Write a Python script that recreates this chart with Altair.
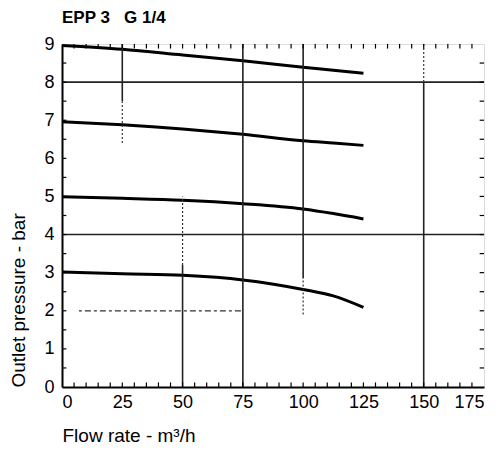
import altair as alt
import pandas as pd

# ---- data ----
flow = [0, 25, 50, 75, 100, 112.5, 125]
curve_9 = [8.96, 8.86, 8.71, 8.56, 8.39, 8.31, 8.23]
curve_7 = [6.96, 6.88, 6.77, 6.63, 6.46, 6.40, 6.34]
curve_5 = [4.99, 4.95, 4.90, 4.81, 4.67, 4.55, 4.41]
curve_3 = [3.02, 2.97, 2.93, 2.81, 2.56, 2.39, 2.09]

x_ticks = [0, 25, 50, 75, 100, 125, 150, 175]
y_ticks = [0, 1, 2, 3, 4, 5, 6, 7, 8, 9]

# grid segments (solid)
vgrid_x = [25, 75, 100, 150, 50]
vgrid_lo = [7.5, 0, 2.85, 0, 0]
vgrid_hi = [9, 9, 9, 8, 3.2]
hgrid_y = [8, 4]
# grid segments (dotted)
vdot_x = [25, 50, 100, 150]
vdot_lo = [6.4, 3.2, 1.9, 8]
vdot_hi = [7.5, 5, 2.85, 9]
hdot_y = [2]
hdot_lo = [7]
hdot_hi = [75]

# minor ticks
minor_x = list(range(5, 175, 5))
minor_y = [v / 2 for v in range(1, 18)]

FONT = "Liberation Sans, Arial, sans-serif"

curves = []
for name, vals in [("9", curve_9), ("7", curve_7), ("5", curve_5), ("3", curve_3)]:
    for f, p in zip(flow, vals):
        curves.append({"curve": name, "flow": f, "p": p})
curve_df = pd.DataFrame(curves)

xs = alt.Scale(domain=[0, 175], nice=False, zero=False)
ys = alt.Scale(domain=[0, 9], nice=False, zero=False)

xaxis = alt.Axis(values=x_ticks, ticks=False, grid=False, domainColor="black",
                 domainWidth=2, labelFont=FONT, labelFontSize=18, labelColor="black",
                 labelPadding=6, labelOverlap=False, title="Flow rate - m³/h",
                 titleFont=FONT, titleFontSize=19, titleFontWeight="normal",
                 titleColor="black", titleAnchor="start", titlePadding=15)
yaxis = alt.Axis(values=y_ticks, ticks=False, grid=False, domainColor="black",
                 domainWidth=2, labelFont=FONT, labelFontSize=18, labelColor="black",
                 labelPadding=8, labelOverlap=False, title="Outlet pressure - bar",
                 titleFont=FONT, titleFontSize=19, titleFontWeight="normal",
                 titleColor="black", titleAnchor="start", titlePadding=15)

lines = alt.Chart(curve_df).mark_line(color="black", strokeWidth=3,
                                      interpolate="monotone").encode(
    x=alt.X("flow:Q", scale=xs, axis=xaxis),
    y=alt.Y("p:Q", scale=ys, axis=yaxis),
    detail="curve:N",
)


def vseg(df, **mk):
    return alt.Chart(df).mark_rule(**mk).encode(
        x=alt.X("x:Q", scale=xs, axis=xaxis),
        y=alt.Y("lo:Q", scale=ys, axis=yaxis), y2="hi:Q")


def hseg(df, **mk):
    return alt.Chart(df).mark_rule(**mk).encode(
        y=alt.Y("y:Q", scale=ys, axis=yaxis),
        x=alt.X("lo:Q", scale=xs, axis=xaxis), x2="hi:Q")


vgrid = vseg(pd.DataFrame({"x": vgrid_x, "lo": vgrid_lo, "hi": vgrid_hi}),
             color="#222", strokeWidth=1.6)
hgrid = hseg(pd.DataFrame({"y": hgrid_y, "lo": [0, 0], "hi": [175, 175]}),
             color="#222", strokeWidth=1.6)
vdot = vseg(pd.DataFrame({"x": vdot_x, "lo": vdot_lo, "hi": vdot_hi}),
            color="#333", strokeWidth=1.2, strokeDash=[2, 2])
hdot = hseg(pd.DataFrame({"y": hdot_y, "lo": hdot_lo, "hi": hdot_hi}),
            color="#333", strokeWidth=1.2, strokeDash=[3, 3, 6, 3])

bx = pd.DataFrame({"x": minor_x, "lo": [0] * len(minor_x), "hi": [0.12] * len(minor_x)})
tx = pd.DataFrame({"x": minor_x, "lo": [8.88] * len(minor_x), "hi": [9] * len(minor_x)})
ly = pd.DataFrame({"y": minor_y, "lo": [0] * len(minor_y), "hi": [1.8] * len(minor_y)})
ry = pd.DataFrame({"y": minor_y, "lo": [173.2] * len(minor_y), "hi": [175] * len(minor_y)})

tick_style = dict(color="black", strokeWidth=1.2)

chart = alt.layer(
    lines,
    hgrid, vgrid, vdot, hdot,
    vseg(bx, **tick_style), vseg(tx, **tick_style),
    hseg(ly, **tick_style), hseg(ry, **tick_style),
).properties(
    width=422, height=343,
    title=alt.TitleParams("EPP 3\u00a0\u00a0\u00a0G 1/4", anchor="start", font=FONT,
                          fontSize=17, fontWeight="bold", color="black",
                          frame="group", offset=8),
    autosize=alt.AutoSizeParams(type="none"),
    padding={"left": 54, "top": 36, "right": 7, "bottom": 60},
).configure_view(stroke="black", strokeWidth=2).configure(background="white")

chart.save("out.html", embed_options={"renderer": "svg", "actions": False})
